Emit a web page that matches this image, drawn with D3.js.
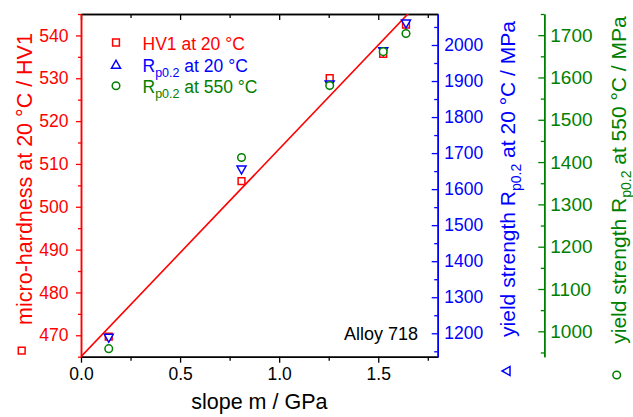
<!DOCTYPE html>
<html>
<head>
<meta charset="utf-8">
<script src="https://cdn.jsdelivr.net/npm/d3@7/dist/d3.min.js"></script>
<style>
  html, body { margin: 0; padding: 0; background: #fff; }
  svg { display: block; font-family: "Liberation Sans", Arial, sans-serif; }
</style>
</head>
<body>
<svg id="chart" width="633" height="417"></svg>
<script>
// Alloy 718: hardness and yield strength versus slope m
const slope      = [0.14, 0.81, 1.255, 1.525, 1.64];   // slope m / GPa
const hardnessHV = [469.7, 506, 530, 535.7, 542.5];     // HV1 at 20 °C
const yield20    = [1186, 1653, 1889, 1981, 2058];      // Rp0.2 at 20 °C / MPa
const yield550   = [959, 1411, 1581, 1661, 1704];       // Rp0.2 at 550 °C / MPa

// linear fit of hardness vs slope
const fitIntercept = 465.0;
const fitSlope = 48.5;

const xMajor = [0, 0.5, 1.0, 1.5];
const xMinor = [0.25, 0.75, 1.25, 1.75];
const hvMajor = [470, 480, 490, 500, 510, 520, 530, 540];
const hvMinor = [465, 475, 485, 495, 505, 515, 525, 535, 545];
const y20Major = [1200, 1300, 1400, 1500, 1600, 1700, 1800, 1900, 2000];
const y20Minor = [1150, 1250, 1350, 1450, 1550, 1650, 1750, 1850, 1950, 2050];
const y550Major = [1000, 1100, 1200, 1300, 1400, 1500, 1600, 1700];
const y550Minor = [950, 1050, 1150, 1250, 1350, 1450, 1550, 1650, 1750];

const RED = "#ff0000", BLUE = "#0000ff", GREEN = "#008000";

const svg = d3.select("#chart");
const L = 81, R = 437.7, T = 14, B = 356.7, R2 = 544.3;

const x = d3.scaleLinear().domain([0, 1.8]).range([L, R]);
const yHV = d3.scaleLinear().domain([465, 545]).range([B, T]);
const y20 = d3.scaleLinear().domain([1135, 2086]).range([B, T]);
const y550 = d3.scaleLinear().domain([940, 1750]).range([B, T]);

const intFmt = d3.format("d");

function styleAxis(g, color, fontSize) {
  g.selectAll(".domain").attr("stroke", color).attr("stroke-width", 1.5);
  g.selectAll(".tick line").attr("stroke", color).attr("stroke-width", 1.3);
  g.selectAll(".tick text").attr("fill", color)
    .style("font-size", fontSize + "px")
    .style("font-family", "'Liberation Sans', Arial, sans-serif");
}

// bottom axis
const gxMinor = svg.append("g").attr("transform", `translate(0,${B})`)
  .call(d3.axisBottom(x).tickValues(xMinor).tickSize(4).tickSizeOuter(0).tickFormat(""));
styleAxis(gxMinor, "#000", 17.5);
const gx = svg.append("g").attr("transform", `translate(0,${B})`)
  .call(d3.axisBottom(x).tickValues(xMajor).tickSize(6).tickSizeOuter(0)
    .tickPadding(5).tickFormat(d3.format(".1f")));
styleAxis(gx, "#000", 17.5);

// top frame with inward ticks
const gtMinor = svg.append("g").attr("transform", `translate(0,${T})`)
  .call(d3.axisBottom(x).tickValues(xMinor).tickSize(4).tickSizeOuter(0).tickFormat(""));
styleAxis(gtMinor, "#000", 17.5);
const gt = svg.append("g").attr("transform", `translate(0,${T})`)
  .call(d3.axisBottom(x).tickValues(xMajor).tickSize(6).tickSizeOuter(0).tickFormat(""));
styleAxis(gt, "#000", 17.5);

// left hardness axis
const ghMinor = svg.append("g").attr("transform", `translate(${L},0)`)
  .call(d3.axisLeft(yHV).tickValues(hvMinor).tickSize(3).tickSizeOuter(0).tickFormat(""));
styleAxis(ghMinor, RED, 17.5);
const gh = svg.append("g").attr("transform", `translate(${L},0)`)
  .call(d3.axisLeft(yHV).tickValues(hvMajor).tickSize(5).tickSizeOuter(0)
    .tickPadding(7.5).tickFormat(intFmt));
styleAxis(gh, RED, 17.5);

// right axis: yield strength at 20 °C
const g20Minor = svg.append("g").attr("transform", `translate(${R},0)`)
  .call(d3.axisRight(y20).tickValues(y20Minor).tickSize(-3.5).tickSizeOuter(0).tickFormat(""));
styleAxis(g20Minor, BLUE, 17.5);
const g20 = svg.append("g").attr("transform", `translate(${R},0)`)
  .call(d3.axisRight(y20).tickValues(y20Major).tickSize(-6).tickSizeOuter(0)
    .tickPadding(6.5).tickFormat(intFmt));
styleAxis(g20, BLUE, 17.5);

// outer right axis: yield strength at 550 °C
const g550Minor = svg.append("g").attr("transform", `translate(${R2},0)`)
  .call(d3.axisRight(y550).tickValues(y550Minor).tickSize(-3.5).tickSizeOuter(0).tickFormat(""));
styleAxis(g550Minor, GREEN, 19);
const g550 = svg.append("g").attr("transform", `translate(${R2},0)`)
  .call(d3.axisRight(y550).tickValues(y550Major).tickSize(-6).tickSizeOuter(0)
    .tickPadding(6).tickFormat(intFmt));
styleAxis(g550, GREEN, 19);

// fit line, clipped to the plot frame
svg.append("clipPath").attr("id", "plotClip")
  .append("rect").attr("x", L).attr("y", T).attr("width", R - L).attr("height", B - T);
const fitX = x.domain();
svg.append("path")
  .attr("clip-path", "url(#plotClip)")
  .attr("d", d3.line()(fitX.map(v => [x(v), yHV(fitIntercept + fitSlope * v)])))
  .attr("fill", "none").attr("stroke", RED).attr("stroke-width", 1.6);

// marker shapes
function squarePath(cx, cy, s) {
  const h = s / 2;
  return `M${cx - h},${cy - h}H${cx + h}V${cy + h}H${cx - h}Z`;
}
function triPath(cx, cy, w, hgt, down) {
  const hw = w / 2, hh = hgt / 2;
  return down
    ? `M${cx - hw},${cy - hh}H${cx + hw}L${cx},${cy + hh}Z`
    : `M${cx - hw},${cy + hh}H${cx + hw}L${cx},${cy - hh}Z`;
}

const pts = slope.map((m, i) => ({ m, hv: hardnessHV[i], r20: yield20[i], r550: yield550[i] }));

svg.append("g").selectAll("path").data(pts).join("path")
  .attr("d", d => squarePath(x(d.m), yHV(d.hv), 6.8))
  .attr("fill", "#fff").attr("stroke", RED).attr("stroke-width", 1.5);

svg.append("g").selectAll("path").data(pts).join("path")
  .attr("d", d => triPath(x(d.m), y20(d.r20), 9, 8, true))
  .attr("fill", "#fff").attr("stroke", BLUE).attr("stroke-width", 1.5).attr("stroke-linejoin", "miter");

svg.append("g").selectAll("circle").data(pts).join("circle")
  .attr("cx", d => x(d.m)).attr("cy", d => y550(d.r550)).attr("r", 3.8)
  .attr("fill", "#fff").attr("stroke", GREEN).attr("stroke-width", 1.5);

// legend
const legend = [
  { color: RED,   shape: "square",   main: "HV1 at 20 °C", sub: null, rest: null },
  { color: BLUE,  shape: "triangle", main: "R", sub: "p0.2", rest: " at 20 °C" },
  { color: GREEN, shape: "circle",   main: "R", sub: "p0.2", rest: " at 550 °C" }
];
const legBase = [50, 71.7, 93.3];
legend.forEach((e, i) => {
  const by = legBase[i], sy = by - 7.5, sx = 116;
  if (e.shape === "square") {
    svg.append("path").attr("d", squarePath(sx, sy, 6.8))
      .attr("fill", "#fff").attr("stroke", e.color).attr("stroke-width", 1.5);
  } else if (e.shape === "triangle") {
    svg.append("path").attr("d", triPath(sx, sy, 9, 8, false))
      .attr("fill", "#fff").attr("stroke", e.color).attr("stroke-width", 1.5);
  } else {
    svg.append("circle").attr("cx", sx).attr("cy", sy).attr("r", 3.8)
      .attr("fill", "#fff").attr("stroke", e.color).attr("stroke-width", 1.5);
  }
  const t = svg.append("text").attr("x", 142.5).attr("y", by)
    .attr("fill", e.color).style("font-size", "17.5px");
  t.append("tspan").text(e.main);
  if (e.sub) {
    t.append("tspan").attr("dy", 5).style("font-size", "12.5px").text(e.sub);
    t.append("tspan").attr("dy", -5).text(e.rest);
  }
});

// annotation
svg.append("text").attr("x", 418).attr("y", 340).attr("text-anchor", "end")
  .attr("fill", "#000").style("font-size", "18px").text("Alloy 718");

// axis titles
svg.append("text").attr("x", (L + R) / 2).attr("y", 409).attr("text-anchor", "middle")
  .attr("fill", "#000").style("font-size", "21.5px").text("slope m / GPa");

svg.append("text").attr("transform", "translate(31.5,179) rotate(-90)")
  .attr("text-anchor", "middle").attr("fill", RED).style("font-size", "21.5px")
  .text("micro-hardness at 20 °C / HV1");
svg.append("path").attr("d", squarePath(21.7, 350.7, 6.8))
  .attr("fill", "#fff").attr("stroke", RED).attr("stroke-width", 1.5);

function rotatedTitle(px, py, color, before, sub, after) {
  const t = svg.append("text").attr("transform", `translate(${px},${py}) rotate(-90)`)
    .attr("text-anchor", "middle").attr("fill", color).style("font-size", "21px");
  t.append("tspan").text(before);
  t.append("tspan").attr("dy", 5.5).style("font-size", "14px").text(sub);
  t.append("tspan").attr("dy", -5.5).text(after);
}
rotatedTitle(515, 179, BLUE, "yield strength R", "p0.2", " at 20 °C / MPa");
svg.append("path").attr("d", triPath(0, 0, 9, 8, false))
  .attr("transform", "translate(506,371) rotate(-90)")
  .attr("fill", "#fff").attr("stroke", BLUE).attr("stroke-width", 1.5);

rotatedTitle(625.5, 180, GREEN, "yield strength R", "p0.2", " at 550 °C / MPa");
svg.append("circle").attr("cx", 616.7).attr("cy", 375).attr("r", 3.8)
  .attr("fill", "#fff").attr("stroke", GREEN).attr("stroke-width", 1.5);
</script>
</body>
</html>
